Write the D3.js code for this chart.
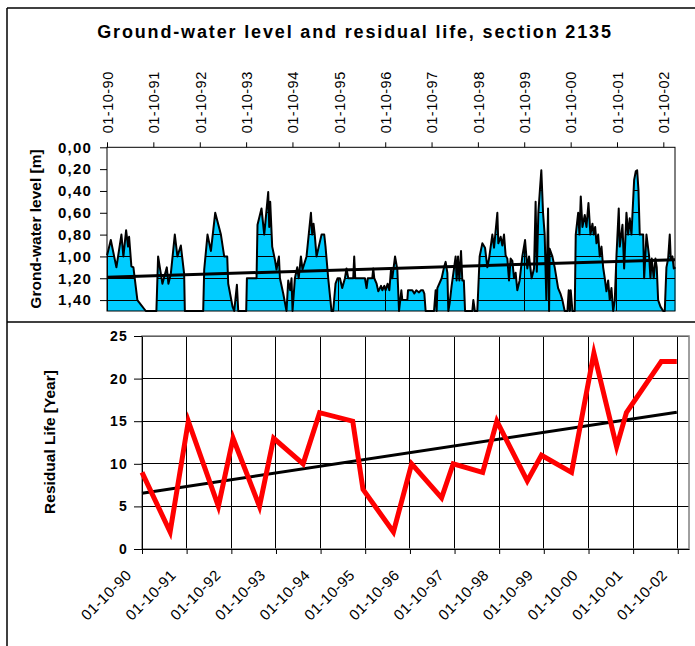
<!DOCTYPE html>
<html><head><meta charset="utf-8">
<script src="https://cdn.jsdelivr.net/npm/d3@7"></script>
<style>
body{margin:0;background:#fff;}
text{font-family:"Liberation Sans",Arial,Helvetica,sans-serif;fill:#000;}
</style></head><body>
<svg id="c" width="695" height="646"></svg>
<script>
// ---------------- DATA ----------------
const titleText = "Ground-water level and residual life, section 2135";
const levelAxisTitle = "Grond-water level [m]";
const lifeAxisTitle = "Residual Life [Year]";
const yearTickDates = ["1990-10-01","1991-10-01","1992-10-01","1993-10-01","1994-10-01","1995-10-01","1996-10-01","1997-10-01","1998-10-01","1999-10-01","2000-10-01","2001-10-01","2002-10-01"];
const yearTickLabels = ["01-10-90","01-10-91","01-10-92","01-10-93","01-10-94","01-10-95","01-10-96","01-10-97","01-10-98","01-10-99","01-10-00","01-10-01","01-10-02"];
const timeDomain = ["1990-10-01","2003-01-01"];
const levelDomain = [0, 1.5];
const levelTicks = [0, 0.2, 0.4, 0.6, 0.8, 1.0, 1.2, 1.4];
const levelTickLabels = ["0,00","0,20","0,40","0,60","0,80","1,00","1,20","1,40"];
const lifeDomain = [0, 25];
const lifeTicks = [0, 5, 10, 15, 20, 25];

// ground-water level, time in decimal years
const gwTime = [1990.750,1990.830,1990.951,1991.059,1991.102,1991.160,1991.203,1991.225,1991.274,1991.318,
1991.404,1991.441,1991.585,1991.814,1991.851,1991.944,1992.039,1992.073,1992.125,1992.211,
1992.267,1992.341,1992.412,1992.427,1992.822,1992.844,1992.915,1992.988,1993.081,1993.204,
1993.275,1993.340,1993.362,1993.455,1993.491,1993.549,1993.578,1993.750,1993.765,1993.973,
1993.994,1994.080,1994.139,1994.225,1994.247,1994.268,1994.311,1994.370,1994.404,1994.456,
1994.478,1994.549,1994.620,1994.657,1994.700,1994.728,1994.750,1994.801,1994.851,1994.883,
1994.931,1994.965,1995.052,1995.147,1995.175,1995.203,1995.229,1995.268,1995.376,1995.434,
1995.462,1995.520,1995.591,1995.628,1995.678,1995.721,1995.773,1995.822,1995.881,1995.915,
1995.952,1996.060,1996.081,1996.103,1996.312,1996.347,1996.373,1996.470,1996.491,1996.513,
1996.563,1996.599,1996.658,1996.686,1996.729,1996.757,1996.800,1996.837,1996.873,1996.901,
1996.960,1997.009,1997.046,1997.096,1997.117,1997.225,1997.240,1997.333,1997.376,1997.419,
1997.478,1997.517,1997.564,1997.592,1997.620,1997.801,1997.836,1997.858,1997.873,1997.966,
1998.017,1998.052,1998.089,1998.110,1998.138,1998.181,1998.233,1998.268,1998.289,1998.320,
1998.348,1998.384,1998.412,1998.445,1998.471,1998.628,1998.650,1998.682,1998.736,1998.786,
1998.844,1998.902,1998.952,1998.989,1999.060,1999.097,1999.168,1999.189,1999.239,1999.276,
1999.312,1999.347,1999.384,1999.420,1999.455,1999.492,1999.528,1999.563,1999.599,1999.649,
1999.707,1999.766,1999.815,1999.852,1999.908,1999.960,1999.994,2000.020,2000.053,2000.085,
2000.117,2000.154,2000.189,2000.225,2000.262,2000.284,2000.297,2000.355,2000.405,2000.478,
2000.528,2000.571,2000.620,2000.679,2000.707,2000.728,2000.750,2000.787,2000.836,2000.858,
2000.910,2000.938,2000.966,2001.002,2001.052,2001.089,2001.132,2001.175,2001.218,2001.246,
2001.277,2001.305,2001.341,2001.376,2001.413,2001.449,2001.484,2001.520,2001.557,2001.592,
2001.628,2001.665,2001.700,2001.736,2001.786,2001.807,2001.866,2001.902,2001.952,2001.989,
2002.023,2002.060,2002.118,2002.153,2002.183,2002.211,2002.239,2002.313,2002.334,2002.384,
2002.442,2002.470,2002.498,2002.541,2002.578,2002.606,2002.636,2002.686,2002.744,2002.779,
2002.815,2002.852,2002.887,2002.908,2002.945,2002.973,2003.010];
const gwLevel = [0.99,0.85,1.10,0.80,1.00,0.76,0.91,0.82,1.09,1.10,
1.40,1.42,1.50,1.50,1.00,1.25,1.10,1.25,1.16,0.80,
1.00,0.90,1.16,1.50,1.50,1.12,0.80,0.95,0.60,0.80,
1.00,1.00,1.25,1.46,1.50,1.26,1.50,1.50,1.20,1.20,
0.71,0.56,0.80,0.41,0.73,0.50,0.91,1.03,1.12,1.00,
1.20,1.34,1.50,1.22,1.31,1.20,1.50,1.20,1.10,1.20,
1.00,1.12,1.00,0.60,0.80,0.70,0.80,1.00,0.80,0.80,
0.91,1.20,1.50,1.50,1.25,1.20,1.20,1.29,1.20,1.11,
1.20,1.20,1.00,1.20,1.20,1.29,1.20,1.20,1.11,1.20,
1.25,1.32,1.27,1.31,1.27,1.31,1.25,1.31,1.12,1.20,
1.00,1.12,1.50,1.31,1.40,1.40,1.31,1.31,1.34,1.31,
1.33,1.31,1.31,1.34,1.50,1.50,1.31,1.50,1.29,1.20,
1.10,1.05,1.15,1.50,1.43,1.27,1.11,1.00,1.22,1.00,
1.22,0.95,1.22,1.22,1.50,1.50,1.40,1.50,1.50,1.00,
0.88,0.92,1.10,1.02,0.80,0.92,0.60,0.88,0.82,0.90,
0.80,0.99,1.02,1.22,1.02,1.04,1.20,1.15,1.31,1.22,
1.00,0.85,1.11,1.00,1.20,1.11,0.50,1.14,0.60,0.40,
0.21,0.60,0.80,1.40,0.56,1.50,0.93,1.00,1.10,1.29,
1.34,1.40,1.50,1.50,1.31,1.50,1.31,1.50,1.50,0.80,
0.60,0.80,0.45,0.73,0.62,0.73,0.51,0.80,0.70,0.80,
0.73,0.88,0.80,1.00,0.91,1.10,1.20,1.32,1.22,1.40,
1.29,1.50,1.40,1.00,0.56,0.91,0.71,1.11,0.60,0.80,
0.65,0.80,0.30,0.22,0.21,0.39,0.80,0.80,1.20,0.80,
1.00,1.20,1.02,1.20,1.02,1.10,1.40,1.46,1.50,1.50,
1.10,1.02,0.80,1.02,1.00,1.11,1.10];
const levelTrendDates = ["1990-10-01","2003-01-01"];
const levelTrendValues = [1.19, 1.03];

// residual life
const lifeDates = ["1990-10-01","1991-05-19","1991-10-15","1992-06-17","1992-10-15","1993-05-19","1993-09-12","1994-05-11","1994-09-23","1995-06-21","1995-09-13","1996-05-19","1996-10-15","1997-06-17","1997-09-20","1998-05-19","1998-09-12","1999-05-19","1999-09-12","2000-05-15","2000-11-14","2001-05-19","2001-08-07","2002-05-19","2002-09-23"];
const lifeValues = [9,2,15,5,13,5,13,10,16,15,7,2,10,6,10,9,15,8,11,9,23,12,16,22,22];
const lifeTrendDates = ["1990-10-01","2002-09-23"];
const lifeTrendValues = [6.55, 16.05];

// ---------------- DRAW ----------------
const parse = d3.timeParse("%Y-%m-%d");
function fromDecimalYear(t){
  const y = Math.floor(t);
  const s = new Date(y,0,1), e = new Date(y+1,0,1);
  return new Date(+s + (t - y) * (e - s));
}
const svg = d3.select("#c");
const tickDates = yearTickDates.map(parse);

// frame
const frame = svg.append("g").attr("stroke","#000").attr("stroke-width",1.5).attr("fill","none");
frame.append("line").attr("x1",7).attr("x2",695).attr("y1",8).attr("y2",8);
frame.append("line").attr("x1",7).attr("x2",7).attr("y1",8).attr("y2",646);
frame.append("line").attr("x1",7).attr("x2",695).attr("y1",322).attr("y2",322);

// title
svg.append("text").attr("x",355).attr("y",38).attr("text-anchor","middle")
  .style("font-size","18px").style("font-weight","bold").style("letter-spacing","1.85px")
  .text(titleText);

// ---------- top chart ----------
const x1 = d3.scaleTime().domain(timeDomain.map(parse)).range([107, 675]);
const y1 = d3.scaleLinear().domain(levelDomain).range([147.3, 311]);
const gw = gwTime.map((t,i)=>({date: fromDecimalYear(t), v: gwLevel[i]}));

const area = d3.area().x(d=>x1(d.date)).y0(y1(levelDomain[1])).y1(d=>y1(d.v));
const line1 = d3.line().x(d=>x1(d.date)).y(d=>y1(d.v));

svg.append("defs").append("clipPath").attr("id","areaClip")
  .append("path").attr("d", area(gw));

svg.append("path").attr("d", area(gw)).attr("fill","#00CCFF");

const grid1 = svg.append("g").attr("clip-path","url(#areaClip)").attr("stroke","#000").attr("stroke-width",1).attr("shape-rendering","crispEdges");
grid1.selectAll("line.h").data(levelTicks).join("line").attr("class","h")
  .attr("x1",x1.range()[0]).attr("x2",x1.range()[1]).attr("y1",d=>y1(d)).attr("y2",d=>y1(d));
grid1.selectAll("line.v").data(tickDates).join("line").attr("class","v")
  .attr("x1",d=>x1(d)).attr("x2",d=>x1(d)).attr("y1",y1.range()[0]).attr("y2",y1.range()[1]);

svg.append("path").attr("d", line1(gw)).attr("fill","none").attr("stroke","#000").attr("stroke-width",2).attr("stroke-linejoin","round");

svg.append("path").attr("d", line1(levelTrendDates.map((d,i)=>({date:parse(d), v:levelTrendValues[i]}))))
  .attr("fill","none").attr("stroke","#000").attr("stroke-width",3);

svg.append("rect").attr("x",107).attr("y",147.3).attr("width",675-107).attr("height",311-147.3)
  .attr("fill","none").attr("stroke","#000").attr("stroke-width",1);

const topAxis = svg.append("g").attr("transform","translate(0,147.3)")
  .call(d3.axisTop(x1).tickValues(tickDates).tickSize(5).tickSizeOuter(0).tickFormat((d,i)=>yearTickLabels[i]));
topAxis.select(".domain").remove();
topAxis.selectAll("line").attr("stroke","#000");
topAxis.selectAll("text").attr("transform","rotate(-90)").attr("x",14).attr("y",0).attr("dy","0.36em")
  .attr("text-anchor","start").style("font-size","14.5px").style("letter-spacing","0.5px").attr("font-family",null);

const leftAxis1 = svg.append("g").attr("transform","translate(107,0)")
  .call(d3.axisLeft(y1).tickValues(levelTicks).tickSize(7).tickSizeOuter(0).tickFormat((d,i)=>levelTickLabels[i]));
leftAxis1.select(".domain").remove();
leftAxis1.selectAll("line").attr("stroke","#000");
leftAxis1.selectAll("text").attr("x",-15).style("font-size","15px").style("font-weight","bold").style("letter-spacing","1.2px").attr("font-family",null);

svg.append("text").attr("transform","translate(41,229) rotate(-90)").attr("text-anchor","middle")
  .style("font-size","15.5px").style("font-weight","bold").text(levelAxisTitle);

// ---------- bottom chart ----------
const x2 = d3.scaleTime().domain(timeDomain.map(parse)).range([142, 689]);
const y2 = d3.scaleLinear().domain(lifeDomain).range([549, 336]);

const grid2 = svg.append("g").attr("stroke","#000").attr("stroke-width",1).attr("shape-rendering","crispEdges");
grid2.selectAll("line.h").data(lifeTicks.slice(1)).join("line").attr("class","h")
  .attr("x1",142).attr("x2",689).attr("y1",d=>y2(d)).attr("y2",d=>y2(d));
grid2.selectAll("line.v").data(tickDates.slice(1)).join("line").attr("class","v")
  .attr("x1",d=>x2(d)).attr("x2",d=>x2(d)).attr("y1",336).attr("y2",549);

svg.append("rect").attr("x",142).attr("y",336).attr("width",689-142).attr("height",549-336)
  .attr("fill","none").attr("stroke","#808080").attr("stroke-width",1.5);

const bottomAxis = svg.append("g").attr("transform","translate(0,549)")
  .call(d3.axisBottom(x2).tickValues(tickDates).tickSize(5).tickSizeOuter(0).tickFormat((d,i)=>yearTickLabels[i]));
bottomAxis.select(".domain").attr("stroke","#000");
bottomAxis.selectAll("line").attr("stroke","#000");
bottomAxis.selectAll(".tick text").attr("transform","translate(-10,27) rotate(-45)").attr("x",0).attr("y",0).attr("dy",0)
  .attr("text-anchor","end").style("font-size","15px").style("letter-spacing","0.5px").attr("font-family",null);

const leftAxis2 = svg.append("g").attr("transform","translate(142,0)")
  .call(d3.axisLeft(y2).tickValues(lifeTicks).tickSize(8).tickSizeOuter(0));
leftAxis2.select(".domain").attr("stroke","#000");
leftAxis2.selectAll("line").attr("stroke","#000");
leftAxis2.selectAll("text").attr("x",-14).style("font-size","14px").style("font-weight","bold").style("letter-spacing","1.2px").attr("font-family",null);

svg.append("text").attr("transform","translate(55,442) rotate(-90)").attr("text-anchor","middle")
  .style("font-size","15.5px").style("font-weight","bold").text(lifeAxisTitle);

const line2 = d3.line().x(d=>x2(d.date)).y(d=>y2(d.v));
svg.append("path").attr("d", line2(lifeTrendDates.map((d,i)=>({date:parse(d), v:lifeTrendValues[i]}))))
  .attr("fill","none").attr("stroke","#000").attr("stroke-width",3);
svg.append("path").attr("d", line2(lifeDates.map((d,i)=>({date:parse(d), v:lifeValues[i]}))))
  .attr("fill","none").attr("stroke","#FF0000").attr("stroke-width",5).attr("stroke-linejoin","miter").attr("stroke-miterlimit",10);
</script>
</body></html>
